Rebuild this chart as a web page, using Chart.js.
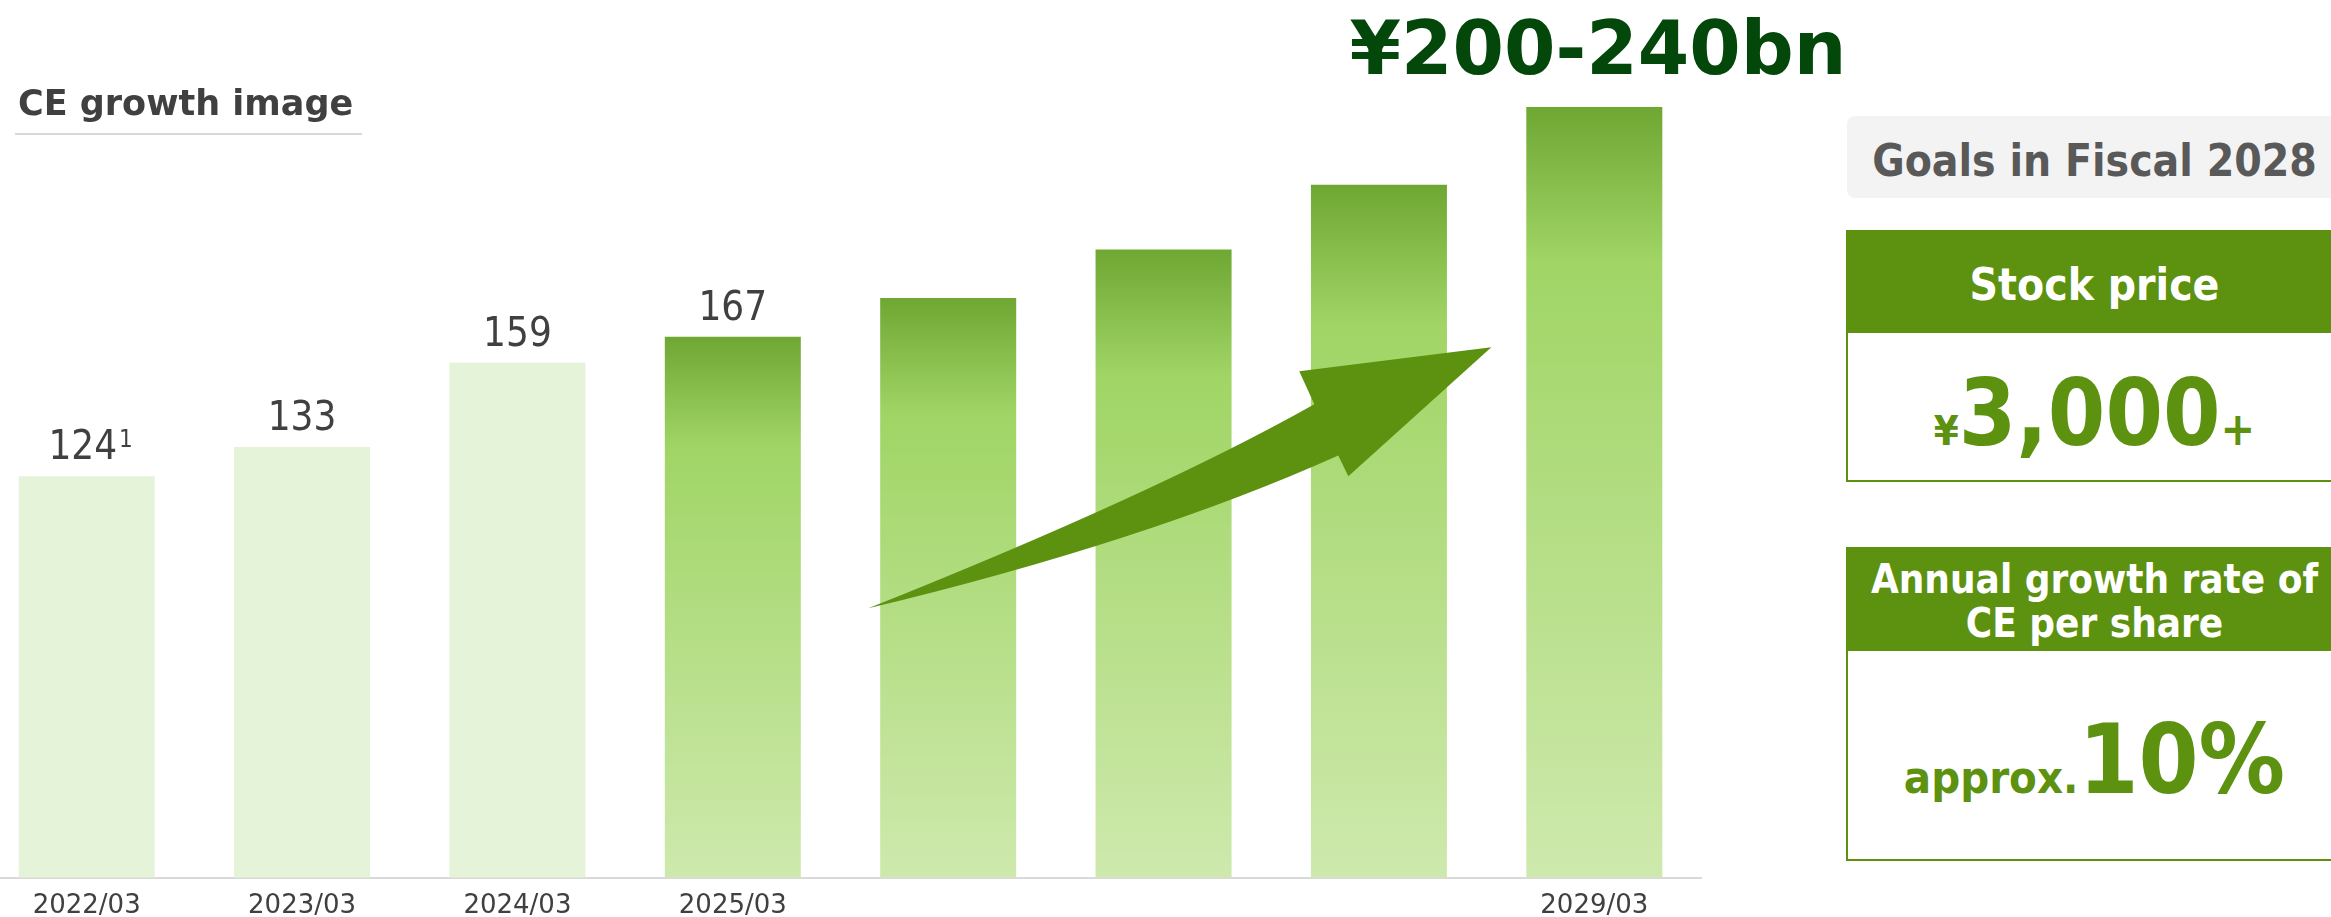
<!DOCTYPE html>
<html>
<head>
<meta charset="utf-8">
<script src="https://cdn.jsdelivr.net/npm/chart.js@4/dist/chart.umd.min.js"></script>
<style>
  html, body { margin: 0; padding: 0; width: 2331px; height: 917px; overflow: hidden; background: #fff; }
  body { position: relative; font-family: 'DejaVu Sans', sans-serif; }
  #chartBox { position: absolute; left: -21px; top: 0; width: 1723px; height: 935px; }
  .abs { position: absolute; white-space: nowrap; }
  .cond { font-family: 'DejaVu Sans Condensed', 'DejaVu Sans', sans-serif; font-stretch: condensed; font-weight: bold; }
  .title { left: 18px; top: 86px; font-size: 35px; line-height: 35px; font-weight: bold; color: #404040; }
  .title-rule { left: 15px; top: 133px; width: 347px; height: 2px; background: #d9d9d9; }
  .target { left: 1298px; top: 11px; width: 600px; text-align: center; font-size: 74px; line-height: 74px; font-weight: bold; color: #03480a; }
  .goals-box { left: 1847px; top: 116px; width: 495px; height: 82px; background: #f3f3f3; border-radius: 8px; }
  .goals { left: 1846px; top: 139px; width: 497px; text-align: center; font-size: 44px; line-height: 44px; color: #595959; }
  .card { left: 1846px; width: 497px; border: 2px solid #5d9110; box-sizing: border-box; background: #fff; }
  .card .head { position: absolute; left: 0; top: 0; right: 0; background: #5d9110; }
  .centered { left: 1846px; width: 497px; text-align: center; }
  .head-text { color: #fff; }
  .big { color: #5d9110; }
</style>
</head>
<body>
<div id="chartBox"><canvas id="chart"></canvas></div>

<div class="abs title">CE growth image</div>
<div class="abs title-rule"></div>
<div class="abs target">¥200-240bn</div>

<div class="abs goals-box"></div>
<div class="abs goals cond">Goals in Fiscal 2028</div>

<div class="abs card" style="top:230px;height:252px;"><div class="head" style="height:101px;"></div></div>
<div class="abs centered cond head-text" style="top:263px;font-size:44px;line-height:44px;">Stock price</div>
<div class="abs centered cond big" style="top:368px;font-size:92px;line-height:92px;"><span style="font-size:40px;line-height:40px;">¥</span>3,000<span style="font-size:46px;line-height:46px;">+</span></div>

<div class="abs card" style="top:547px;height:314px;"><div class="head" style="height:102px;"></div></div>
<div class="abs centered cond head-text" style="top:557px;font-size:40px;line-height:44px;">Annual growth rate of<br>CE per share</div>
<div class="abs centered cond big" style="top:712px;font-size:96px;line-height:96px;"><span style="font-size:45px;line-height:45px;">approx.</span>10%</div>

<script>
// fiscal year ends shown on the axis
const CATEGORIES = ['2022/03', '2023/03', '2024/03', '2025/03', '2026/03', '2027/03', '2028/03', '2029/03'];
const TICK_LABELS = ['2022/03', '2023/03', '2024/03', '2025/03', '', '', '', '2029/03'];
// CE (¥bn) - actuals then growth image
const CE_VALUES = [124, 133, 159, 167, 179, 194, 214, 238];
const VALUE_LABELS = ['124', '133', '159', '167', '', '', '', ''];
const FOOTNOTES = ['1', '', '', '', '', '', '', ''];

const PALE_COUNT = 3; // bars drawn in the pale colour

const barFill = (context) => {
  const chart = context.chart;
  const i = context.dataIndex;
  if (i < PALE_COUNT) return '#e5f3d9';
  if (!chart.chartArea) return '#a0d565';
  const y = chart.scales.y;
  const top = y.getPixelForValue(CE_VALUES[i]);
  const bottom = y.getPixelForValue(0);
  const g = chart.ctx.createLinearGradient(0, top, 0, bottom);
  g.addColorStop(0, '#6fa733');
  g.addColorStop(0.2, '#a0d565');
  g.addColorStop(1, '#cee9ad');
  return g;
};

// value labels above the bars
const valueLabels = {
  id: 'valueLabels',
  afterDatasetsDraw(chart) {
    const ctx = chart.ctx;
    const meta = chart.getDatasetMeta(0);
    ctx.save();
    ctx.fillStyle = '#404040';
    ctx.textBaseline = 'alphabetic';
    ctx.textAlign = 'left';
    meta.data.forEach((bar, i) => {
      const txt = VALUE_LABELS[i];
      if (!txt) return;
      const note = FOOTNOTES[i];
      ctx.font = '40px "DejaVu Sans Condensed", "DejaVu Sans"';
      const w = ctx.measureText(txt).width;
      let nw = 0;
      if (note) {
        ctx.font = '24px "DejaVu Sans Condensed", "DejaVu Sans"';
        nw = ctx.measureText(note).width + 2;
      }
      const base = bar.y - 17;
      const x0 = bar.x - w / 2 - nw / 4;
      ctx.font = '40px "DejaVu Sans Condensed", "DejaVu Sans"';
      ctx.fillText(txt, x0, base);
      if (note) {
        ctx.font = '24px "DejaVu Sans Condensed", "DejaVu Sans"';
        ctx.fillText(note, x0 + w + 2, base - 12);
      }
    });
    ctx.restore();
  }
};

// growth arrow, placed in category / value units
const growthArrow = {
  id: 'growthArrow',
  afterDatasetsDraw(chart) {
    const { ctx, scales: { x, y } } = chart;
    const p = (i, v) => [x.getPixelForValue(i), y.getPixelForValue(v)];
    const tail = p(3.629, 83.2);
    const upCtrl = p(4.957, 118.4);
    const upEnd = p(5.700, 146.2);
    const headUp = p(5.630, 156.4);
    const tip = p(6.522, 163.8);
    const headLow = p(5.858, 124.0);
    const lowEnd = p(5.811, 130.4);
    const lowCtrl = p(4.924, 103.9);
    ctx.save();
    ctx.fillStyle = '#5d9110';
    ctx.beginPath();
    ctx.moveTo(...tail);
    ctx.quadraticCurveTo(...upCtrl, ...upEnd);
    ctx.lineTo(...headUp);
    ctx.lineTo(...tip);
    ctx.lineTo(...headLow);
    ctx.lineTo(...lowEnd);
    ctx.quadraticCurveTo(...lowCtrl, ...tail);
    ctx.closePath();
    ctx.fill();
    ctx.restore();
  }
};

new Chart(document.getElementById('chart'), {
  type: 'bar',
  data: {
    labels: CATEGORIES,
    datasets: [{
      label: 'CE',
      data: CE_VALUES,
      backgroundColor: barFill,
      borderWidth: 0,
      categoryPercentage: 1,
      barPercentage: 0.6315,
    }],
  },
  options: {
    responsive: true,
    maintainAspectRatio: false,
    animation: false,
    devicePixelRatio: 1,
    layout: { padding: 0 },
    scales: {
      x: {
        grid: { display: false, drawTicks: false },
        border: { display: true, color: '#d9d9d9', width: 2 },
        ticks: {
          color: '#404040',
          font: { family: "'DejaVu Sans'", size: 26 },
          padding: 13,
          maxRotation: 0,
          autoSkip: false,
          callback: (val, i) => TICK_LABELS[i],
        },
      },
      y: { display: false, min: 0, max: 271 },
    },
    plugins: {
      legend: { display: false },
      title: { display: false },
      tooltip: { enabled: false },
    },
  },
  plugins: [valueLabels, growthArrow],
});
</script>
</body>
</html>
